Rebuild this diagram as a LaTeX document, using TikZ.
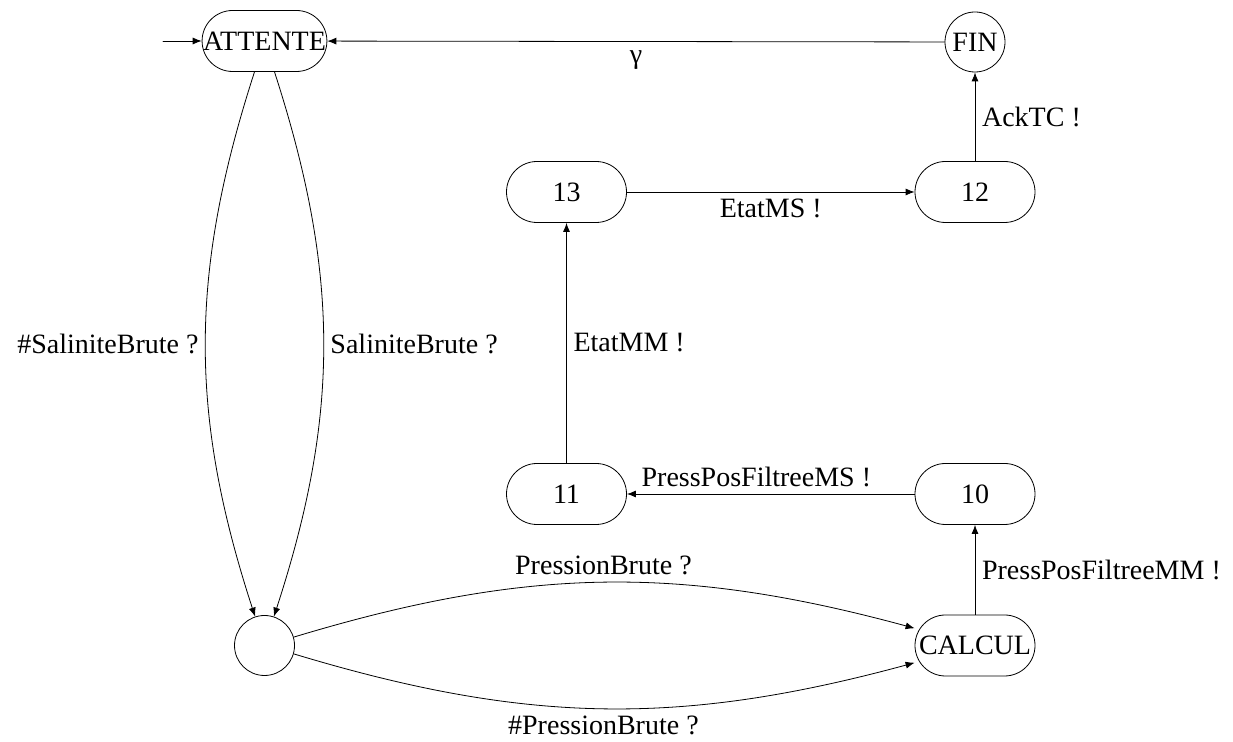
\documentclass[tikz,border=0pt]{standalone}
\usepackage{fontspec}
\setmainfont{Liberation Serif}
\usetikzlibrary{arrows.meta,positioning}

\begin{document}
\begin{tikzpicture}[x=0.5pt,y=-0.5pt,>={Latex[length=4.5pt,width=3.5pt]},line join=round,line cap=round,
	etat/.style={draw,rectangle,rounded corners=15.25pt,minimum width=60pt,minimum height=30.5pt,inner xsep=0.5pt,font=\fontsize{14pt}{16pt}\selectfont},
	rond/.style={draw,circle,minimum size=30pt,inner sep=0pt,font=\fontsize{14pt}{16pt}\selectfont},
	lbl/.style={font=\fontsize{14pt}{16pt}\selectfont}]
		\useasboundingbox (0,0) rectangle (1233,742);
		\coordinate (debut) at (163,41);
		\node[etat] (att) at (264.5,41) {ATTENTE};
		\node[rond] (fin) at (975,42) {FIN};
		\node[rond] (vide) at (264.5,645.5) {};
		\node[etat] (calc) at (975,645.5) {CALCUL};
		\foreach \i/\x/\y in {13/566.5/192,12/975/192,11/566.5/494,10/975/494}{\node[etat] (e\i) at (\x,\y) {\i};}
		\draw[->] (debut)--(att);
		\draw[->] (fin)-- node[lbl,below,yshift=-1pt]{γ} (att);
		\draw[->] (e12)-- node[lbl,right]{AckTC !} (fin);
		\draw[->] (e13)-- node[lbl,below]{EtatMS !} (e12);
		\draw[->] (e11)-- node[lbl,right]{EtatMM !} (e13);
		\draw[->] (e10)-- node[lbl,above,pos=0.55]{PressPosFiltreeMS !} (e11);
		\draw[->] (calc)-- node[lbl,right]{PressPosFiltreeMM !} (e10);
		\draw[->] (att) to[bend right=18] node[lbl,left]{\#SaliniteBrute ?} (vide);
		\draw[->] (att) to[bend left=18] node[lbl,right]{SaliniteBrute ?} (vide);
		\draw[->] (vide) to[bend left=16] node[lbl,above]{PressionBrute ?} (calc);
		\draw[->] (vide) to[bend right=16] node[lbl,below]{\#PressionBrute ?} (calc);
\end{tikzpicture}
\end{document}
